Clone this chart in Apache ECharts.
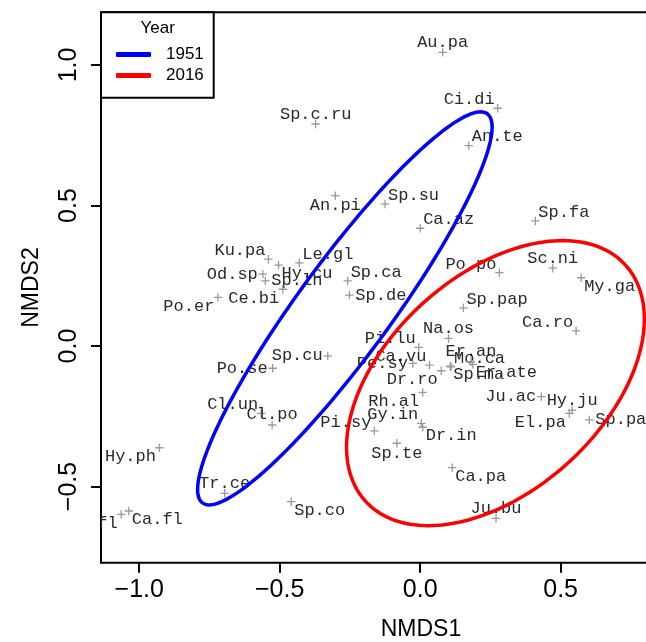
<!DOCTYPE html>
<html>
<head>
<meta charset="utf-8">
<script src="https://cdn.jsdelivr.net/npm/echarts@6/dist/echarts.min.js"></script>
<style>html,body{margin:0;padding:0;background:#fff}#c{width:646px;height:642px}</style>
</head>
<body>
<div id="c"></div>
<script>
// ---- data ----
const species = ['Au.pa','Ci.di','An.te','Sp.c.ru','An.pi','Sp.su','Ca.az','Sp.fa','Po.po','Sc.ni','My.ga','Sp.pap','Ca.ro','Na.os','Pi.lu','Ku.pa','Hy.cu','Le.gl','Od.sp','Sp.ln','Ce.bi','Po.er','Sp.ca','Sp.de','Sp.cu','Po.se','Pe.sy','Ca.vu','Dr.ro','Mo.ca','Sp.ma','Er.an','Er.ate','Rh.al','Ju.ac','Hy.ju','El.pa','Sp.pa','Pi.sy','Gy.in','Dr.in','Sp.te','Ca.pa','Ju.bu','Cl.un','Cl.po','Hy.ph','Tr.ce','Sp.co','Ca.fl','Ce.fl'];
const nmds1 = [0.080,0.276,0.173,-0.372,-0.302,-0.125,0.000,0.410,0.282,0.472,0.573,0.154,0.555,0.101,-0.005,-0.540,-0.504,-0.430,-0.560,-0.551,-0.489,-0.720,-0.258,-0.252,-0.329,-0.525,-0.026,0.033,0.075,0.110,0.107,0.181,0.187,0.009,0.431,0.541,0.531,0.602,-0.163,0.004,0.009,-0.083,0.114,0.270,-0.566,-0.527,-0.928,-0.696,-0.459,-1.037,-1.064];
const nmds2 = [1.045,0.846,0.713,0.790,0.535,0.505,0.419,0.445,0.261,0.277,0.243,0.136,0.054,0.027,-0.005,0.309,0.288,0.296,0.256,0.232,0.202,0.173,0.232,0.181,-0.035,-0.079,-0.062,-0.068,-0.088,-0.074,-0.072,-0.056,-0.065,-0.165,-0.180,-0.228,-0.240,-0.263,-0.302,-0.275,-0.289,-0.346,-0.433,-0.613,-0.240,-0.281,-0.362,-0.524,-0.554,-0.587,-0.599];
// label placement around each point (like ordipointlabel)
const labelPlace = ['T','TL','TR','T','B','TR','TR','TR','TL','T','BR','TR','TL','T','TL','TL','BR','TR','L','R','BL','BL','TR','R','L','L','L','TL','BL','TR','BR','T','BR','BL','L','T','BL','R','TL','TL','BR','B','BR','T','TL','T','BL','T','BR','BR','BL'];

// ellipses (ordiellipse), one per year
const years = ['1951','2016'];
const ellCenterX = [-0.268, 0.268];
const ellCenterY = [0.134, -0.132];
const ellSemiMajor = [0.858, 0.625];
const ellSemiMinor = [0.166, 0.384];
const ellAngleDeg = [53.8, 42.2];

const xTicks = [-1.0, -0.5, 0.0, 0.5, 1.0];
const yTicks = [-0.5, 0.0, 0.5, 1.0];
const X_MIN = -1.136, X_MAX = 1.142;
const Y_MIN = -0.771, Y_MAX = 1.1875;

// ---- styles ----
const yearColors = ['#0000ff', '#ff0000'];
const SANS = '"Liberation Sans", Arial, Helvetica, sans-serif';
const MONO = '"Liberation Mono", "Courier New", monospace';
const fmt = v => (v < 0 ? '\u2212' : '') + Math.abs(v).toFixed(1);

const placeOffsets = {
  T:  {dx: 0,    dy: -10, align: 'center'},
  B:  {dx: 0,    dy: 10,  align: 'center'},
  L:  {dx: -5,   dy: 0,   align: 'right'},
  R:  {dx: 6,    dy: 0,   align: 'left'},
  TL: {dx: -3,   dy: -8.5,align: 'right'},
  TR: {dx: 3,    dy: -8.7,align: 'left'},
  BL: {dx: -3.5, dy: 9,   align: 'right'},
  BR: {dx: 3,    dy: 8.3, align: 'left'}
};

const GRID = {left: 101, top: 12.3, width: 640, height: 550.4};

const chart = echarts.init(document.getElementById('c'));

function ellipseSeries(k) {
  return {
    name: years[k],
    type: 'custom',
    clip: true,
    z: 3,
    itemStyle: {color: yearColors[k]},
    data: [[ellCenterX[k], ellCenterY[k]]],
    renderItem: function (params, api) {
      const cx = api.value(0), cy = api.value(1);
      const a = ellSemiMajor[k], b = ellSemiMinor[k];
      const th = ellAngleDeg[k] * Math.PI / 180;
      const pts = [];
      const n = 180;
      for (let i = 0; i < n; i++) {
        const t = 2 * Math.PI * i / n;
        const ex = cx + a * Math.cos(t) * Math.cos(th) - b * Math.sin(t) * Math.sin(th);
        const ey = cy + a * Math.cos(t) * Math.sin(th) + b * Math.sin(t) * Math.cos(th);
        pts.push(api.coord([ex, ey]));
      }
      return {
        type: 'polygon',
        shape: {points: pts},
        style: {fill: 'none', stroke: yearColors[k], lineWidth: 3.5}
      };
    }
  };
}

const option = {
  animation: false,
  backgroundColor: '#fff',
  grid: Object.assign({containLabel: false, outerBoundsMode: 'none'}, GRID),
  xAxis: {
    type: 'value', min: X_MIN, max: X_MAX,
    name: 'NMDS1', nameLocation: 'middle', nameGap: 55,
    nameTextStyle: {fontSize: 23, color: '#000', fontFamily: SANS},
    axisLine: {show: false, onZero: false},
    splitLine: {show: false},
    axisTick: {show: true, customValues: xTicks, length: 10, lineStyle: {color: '#000', width: 2}},
    axisLabel: {customValues: xTicks, formatter: fmt, fontSize: 25, color: '#000', fontFamily: SANS, margin: 15}
  },
  yAxis: {
    type: 'value', min: Y_MIN, max: Y_MAX,
    name: 'NMDS2', nameLocation: 'middle', nameGap: 58,
    nameTextStyle: {fontSize: 23, color: '#000', fontFamily: SANS},
    axisLine: {show: false, onZero: false},
    splitLine: {show: false},
    axisTick: {show: true, customValues: yTicks, length: 10, lineStyle: {color: '#000', width: 2}},
    axisLabel: {customValues: yTicks, formatter: fmt, rotate: 90, fontSize: 25, color: '#000', fontFamily: SANS, margin: 19}
  },
  legend: {
    orient: 'vertical', left: 116, top: 46,
    itemWidth: 35, itemHeight: 5, itemGap: 4, icon: 'roundRect',
    padding: 0, selectedMode: false,
    textStyle: {fontSize: 17, color: '#000', fontFamily: SANS, padding: [0, 0, 0, 10]},
    data: years,
    z: 12
  },
  graphic: [
    {type: 'rect', z: 1, silent: true, shape: {x: GRID.left, y: GRID.top, width: GRID.width, height: GRID.height},
     style: {fill: 'none', stroke: '#000', lineWidth: 2}},
    {type: 'rect', z: 10, silent: true, shape: {x: 101, y: 12.3, width: 112.7, height: 85.4},
     style: {fill: '#fff', stroke: '#000', lineWidth: 2}},
    {type: 'text', z: 11, silent: true, x: 157.7, y: 28.5,
     style: {text: 'Year', fill: '#000', fontSize: 17, fontFamily: SANS, align: 'center', verticalAlign: 'middle'}}
  ],
  series: [
    ellipseSeries(0),
    ellipseSeries(1),
    {
      type: 'custom',
      name: 'species',
      clip: true,
      z: 2,
      data: species.map((s, i) => [nmds1[i], nmds2[i], i]),
      renderItem: function (params, api) {
        const p = api.coord([api.value(0), api.value(1)]);
        const i = api.value(2);
        const o = placeOffsets[labelPlace[i]];
        const h = 4.2;
        return {
          type: 'group',
          children: [
            {type: 'line', shape: {x1: p[0] - h, y1: p[1], x2: p[0] + h, y2: p[1]}, style: {stroke: '#9a9a9a', lineWidth: 1.3}},
            {type: 'line', shape: {x1: p[0], y1: p[1] - h, x2: p[0], y2: p[1] + h}, style: {stroke: '#9a9a9a', lineWidth: 1.3}},
            {type: 'text', x: p[0] + o.dx, y: p[1] + o.dy,
             style: {text: species[i], fill: '#2a2a2a', fontSize: 17, fontFamily: MONO, align: o.align, verticalAlign: 'middle'}}
          ]
        };
      }
    }
  ]
};
chart.setOption(option);
</script>
</body>
</html>
